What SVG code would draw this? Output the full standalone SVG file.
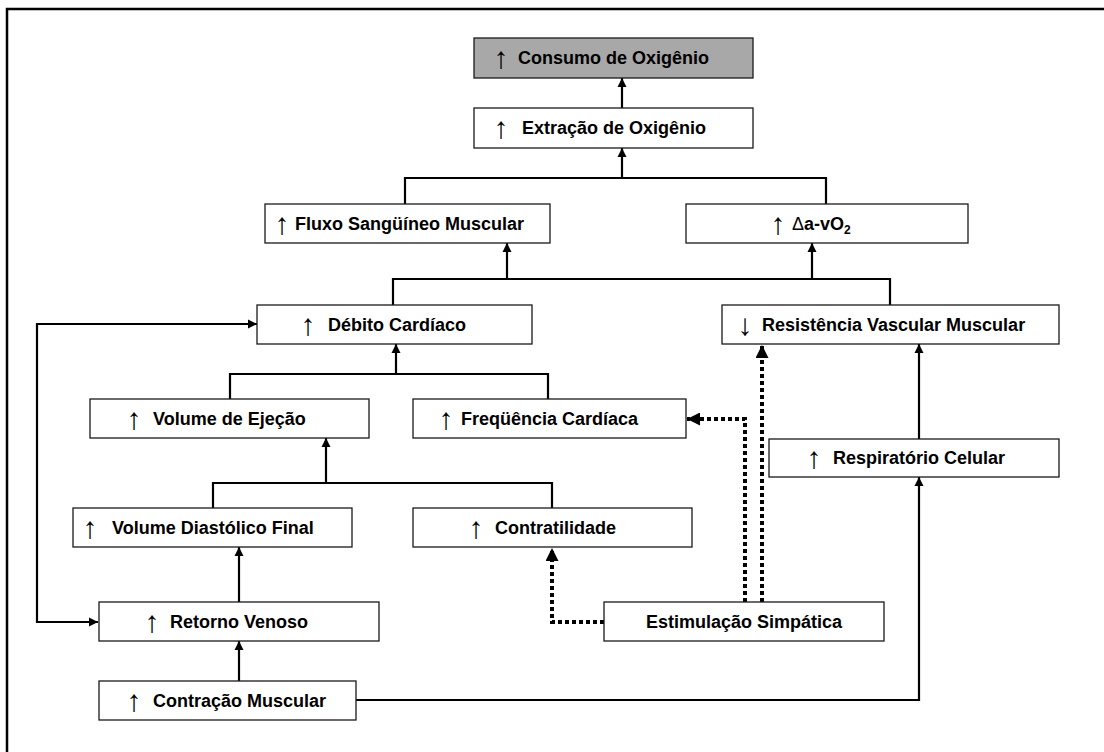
<svg xmlns="http://www.w3.org/2000/svg" width="1104" height="752" viewBox="0 0 1104 752">
<defs>
<style>
.box{fill:#fff;stroke:#1a1a1a;stroke-width:1.3}
.gray{fill:#a8a8a8}
.t{font-family:"Liberation Sans",Arial,sans-serif;font-weight:bold;font-size:18px;fill:#000}
.g{font-family:"Liberation Sans",Arial,sans-serif;font-weight:normal;font-size:30px;fill:#000;text-anchor:middle}
.c{fill:none;stroke:#000;stroke-width:2.2}
.dot{fill:none;stroke:#000;stroke-width:4;stroke-dasharray:4 3}
</style>
<marker id="a" viewBox="0 0 10 10" refX="10" refY="5" markerWidth="9" markerHeight="10" markerUnits="userSpaceOnUse" orient="auto-start-reverse"><path d="M0,0 L10,5 L0,10 z" fill="#000"/></marker>
<marker id="d" viewBox="0 0 10 10" refX="10" refY="5" markerWidth="13" markerHeight="13" markerUnits="userSpaceOnUse" orient="auto"><path d="M0,0 L10,5 L0,10 z" fill="#000"/></marker>
</defs>
<rect width="1104" height="752" fill="#fff"/>
<path d="M7,752 V9 H1104" fill="none" stroke="#000" stroke-width="2.5"/>

<g id="connectors">
<path class="c" d="M622,108 V78" marker-end="url(#a)"/>
<path class="c" d="M622,178 V148" marker-end="url(#a)"/>
<path class="c" d="M405,204 V178 H826 V204"/>
<path class="c" d="M393,305 V279 H890 V305"/>
<path class="c" d="M507,279 V243" marker-end="url(#a)"/>
<path class="c" d="M812,279 V243" marker-end="url(#a)"/>
<path class="c" d="M230,399 V374 H548 V399"/>
<path class="c" d="M396,374 V344" marker-end="url(#a)"/>
<path class="c" d="M213,508 V483 H552 V508"/>
<path class="c" d="M326,483 V438" marker-end="url(#a)"/>
<path class="c" d="M239,602 V547" marker-end="url(#a)"/>
<path class="c" d="M239,681 V641" marker-end="url(#a)"/>
<path class="c" d="M257,324 H37 V622 H98" marker-start="url(#a)" marker-end="url(#a)"/>
<path class="c" d="M356,700 H919 V477" marker-end="url(#a)"/>
<path class="c" d="M919,439 V344" marker-end="url(#a)"/>
<path class="dot" d="M604,622 H552 V548" marker-end="url(#d)"/>
<path class="dot" d="M745,602 V419 H687" marker-end="url(#d)"/>
<path class="dot" d="M762,602 V345" marker-end="url(#d)"/>
</g>

<g id="consumo"><rect class="box gray" x="474" y="38" width="279" height="40"/><text class="g" x="501" y="68">↑</text><text class="t" x="518" y="64">Consumo de Oxigênio</text></g>
<g id="extracao"><rect class="box" x="474" y="108" width="279" height="40"/><text class="g" x="501" y="138">↑</text><text class="t" x="522" y="134">Extração de Oxigênio</text></g>
<g id="fluxo"><rect class="box" x="265" y="204" width="285" height="39"/><text class="g" x="282" y="234">↑</text><text class="t" x="295" y="230">Fluxo Sangüíneo Muscular</text></g>
<g id="dav"><rect class="box" x="686" y="204" width="282" height="39"/><text class="g" x="778" y="234">↑</text><text class="t" x="792" y="230"><tspan font-weight="normal">Δ</tspan>a-vO<tspan font-size="12" dy="4">2</tspan></text></g>
<g id="debito"><rect class="box" x="257" y="305" width="275" height="39"/><text class="g" x="308" y="335">↑</text><text class="t" x="328" y="331">Débito Cardíaco</text></g>
<g id="resistencia"><rect class="box" x="722" y="305" width="337" height="39"/><text class="g" x="745" y="335">↓</text><text class="t" x="762" y="331">Resistência Vascular Muscular</text></g>
<g id="ejecao"><rect class="box" x="90" y="399" width="279" height="39"/><text class="g" x="134" y="429">↑</text><text class="t" x="153" y="425">Volume de Ejeção</text></g>
<g id="frequencia"><rect class="box" x="413" y="399" width="273" height="39"/><text class="g" x="446" y="429">↑</text><text class="t" x="461" y="425">Freqüência Cardíaca</text></g>
<g id="respiratorio"><rect class="box" x="769" y="439" width="290" height="38"/><text class="g" x="814" y="468">↑</text><text class="t" x="833" y="464">Respiratório Celular</text></g>
<g id="vdf"><rect class="box" x="73" y="508" width="279" height="39"/><text class="g" x="90" y="538">↑</text><text class="t" x="112" y="534">Volume Diastólico Final</text></g>
<g id="contratilidade"><rect class="box" x="413" y="508" width="279" height="39"/><text class="g" x="476" y="538">↑</text><text class="t" x="495" y="534">Contratilidade</text></g>
<g id="retorno"><rect class="box" x="99" y="602" width="280" height="39"/><text class="g" x="152" y="632">↑</text><text class="t" x="170" y="628">Retorno Venoso</text></g>
<g id="estimulacao"><rect class="box" x="604" y="602" width="280" height="39"/><text class="t" x="744" y="628" text-anchor="middle">Estimulação Simpática</text></g>
<g id="contracao"><rect class="box" x="99" y="681" width="257" height="39"/><text class="g" x="134" y="711">↑</text><text class="t" x="153" y="707">Contração Muscular</text></g>
</svg>
